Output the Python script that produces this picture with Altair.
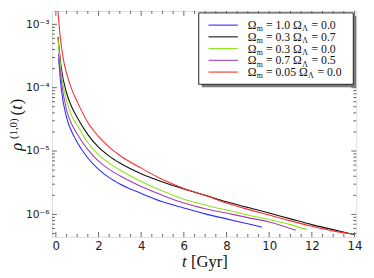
import altair as alt
import pandas as pd

# ---------------- data ----------------
series_names = ["m1.0_l0.0", "m0.3_l0.7", "m0.3_l0.0", "m0.7_l0.5", "m0.05_l0.0"]
omega_m = ["1.0", "0.3", "0.3", "0.7", "0.05"]
omega_l = ["0.0", "0.7", "0.0", "0.5", "0.0"]
line_colors = ["#2b2bff", "#111111", "#8fe31a", "#a23fb3", "#ff2b2b"]

t_blue = [0.13, 0.25, 0.5, 0.75, 1.0, 1.5, 2.0, 2.5, 3.0, 4.0, 5.0, 6.0, 7.0, 8.0, 9.0, 9.65]
rho_blue = [2.88e-4, 1.0e-4, 3.39e-5, 2.0e-5, 1.38e-5, 7.76e-6, 5.13e-6, 3.80e-6, 3.02e-6,
            2.14e-6, 1.58e-6, 1.26e-6, 1.02e-6, 8.5e-7, 7.1e-7, 6.3e-7]

t_black = [0.1, 0.25, 0.5, 0.75, 1.0, 1.5, 2.0, 2.5, 3.0, 4.0, 5.0, 6.0, 7.0, 8.0, 9.0, 10.0,
           11.0, 12.0, 13.0, 13.98]
rho_black = [6.31e-4, 2.09e-4, 8.32e-5, 4.90e-5, 3.39e-5, 1.82e-5, 1.15e-5, 8.32e-6, 6.46e-6,
             4.37e-6, 3.24e-6, 2.51e-6, 2.0e-6, 1.58e-6, 1.29e-6, 1.05e-6, 8.5e-7, 6.9e-7,
             5.75e-7, 4.8e-7]

t_green = [0.1, 0.25, 0.5, 0.75, 1.0, 1.5, 2.0, 2.5, 3.0, 4.0, 5.0, 6.0, 7.0, 8.0, 9.0, 10.0,
           11.0, 11.76]
rho_green = [6.03e-4, 1.74e-4, 6.31e-5, 3.55e-5, 2.57e-5, 1.35e-5, 8.71e-6, 6.46e-6, 5.01e-6,
             3.31e-6, 2.34e-6, 1.74e-6, 1.41e-6, 1.17e-6, 9.8e-7, 8.3e-7, 6.9e-7, 5.75e-7]

t_purple = [0.12, 0.25, 0.5, 0.75, 1.0, 1.5, 2.0, 2.5, 3.0, 4.0, 5.0, 6.0, 7.0, 8.0, 9.0, 10.0,
            11.25]
rho_purple = [3.47e-4, 1.32e-4, 4.47e-5, 2.63e-5, 1.86e-5, 1.05e-5, 6.92e-6, 5.13e-6, 4.07e-6,
              2.75e-6, 2.0e-6, 1.51e-6, 1.23e-6, 1.05e-6, 8.9e-7, 7.6e-7, 5.6e-7]

t_red = [0.09, 0.2, 0.35, 0.5, 0.75, 1.0, 1.5, 2.0, 2.5, 3.0, 4.0, 5.0, 6.0, 7.0, 8.0, 9.0,
         10.0, 11.0, 12.0, 13.0, 13.9]
rho_red = [1.70e-3, 6.61e-4, 2.82e-4, 1.70e-4, 9.33e-5, 6.03e-5, 2.82e-5, 1.70e-5, 1.15e-5,
           8.51e-6, 5.37e-6, 3.55e-6, 2.57e-6, 2.0e-6, 1.51e-6, 1.20e-6, 9.8e-7, 7.9e-7,
           6.5e-7, 5.5e-7, 4.9e-7]

x_major = [0, 2, 4, 6, 8, 10, 12, 14]
y_major = [1e-6, 1e-5, 1e-4, 1e-3]

# ---------------- layout / styling ----------------
W, H = 311, 231
FRAME = "#666666"
SERIF = "Liberation Serif"

x_minor = [i * 0.5 for i in range(0, 29) if (i * 0.5) not in x_major]
y_minor = [k * 10.0 ** e for e in range(-7, -3) for k in range(2, 10)
           if 4.42e-7 < k * 10.0 ** e < 1.62e-3]

all_t = [t_blue, t_black, t_green, t_purple, t_red]
all_rho = [rho_blue, rho_black, rho_green, rho_purple, rho_red]
rows = []
for name, ts, rs in zip(series_names, all_t, all_rho):
    for t, r in zip(ts, rs):
        rows.append({"t": t, "rho": r, "series": name})
df = pd.DataFrame(rows)

X_DOM = [-0.18, 14.08]
Y_DOM = [4.416e-7, 1.627e-3]


def xs():
    return alt.Scale(domain=X_DOM, nice=False, zero=False)


def ys():
    return alt.Scale(type="log", domain=Y_DOM, nice=False)


color = alt.Color("series:N", scale=alt.Scale(domain=series_names, range=line_colors),
                  legend=None)

sup_expr = ("'10' + (round(log(datum.value)/LN10) == -3 ? '⁻³' : "
            "round(log(datum.value)/LN10) == -4 ? '⁻⁴' : "
            "round(log(datum.value)/LN10) == -5 ? '⁻⁵' : '⁻⁶')")

lines = alt.Chart(df).mark_line(strokeWidth=1.1, interpolate="monotone", clip=True).encode(
    x=alt.X("t:Q", scale=xs(),
            axis=alt.Axis(values=x_major, title=None, grid=False, ticks=False, domain=False,
                          labelFont="DejaVu Sans", labelFontSize=12, labelPadding=4,
                          labelColor="#222222", format="d")),
    y=alt.Y("rho:Q", scale=ys(),
            axis=alt.Axis(values=y_major, labelExpr=sup_expr, title=None, grid=False,
                          ticks=False, domain=False, labelFont="DejaVu Sans",
                          labelFontSize=11, labelPadding=3, labelColor="#222222")),
    color=color,
)


def xticks(vals, length, top):
    d = pd.DataFrame({"t": vals})
    if top:
        yv, y2v = 0, length
    else:
        yv, y2v = H, H - length
    return alt.Chart(d).mark_rule(color=FRAME, strokeWidth=1).encode(
        x=alt.X("t:Q", scale=xs(), axis=None), y=alt.value(yv), y2=alt.value(y2v))


def yticks(vals, length, right):
    d = pd.DataFrame({"rho": vals})
    if right:
        xv, x2v = W, W - length
    else:
        xv, x2v = 0, length
    return alt.Chart(d).mark_rule(color=FRAME, strokeWidth=1).encode(
        y=alt.Y("rho:Q", scale=ys(), axis=None), x=alt.value(xv), x2=alt.value(x2v))


ticks = [xticks(x_major, 5, False), xticks(x_minor, 3, False),
         xticks(x_major, 5, True), xticks(x_minor, 3, True),
         yticks(y_major, 5, False), yticks(y_minor, 3, False),
         yticks(y_major, 5, True), yticks(y_minor, 3, True)]

# ---------------- legend ----------------
one = pd.DataFrame({"k": [0]})
shadow = alt.Chart(one).mark_rect(color="#7a7a7a").encode(
    x=alt.value(153), x2=alt.value(311), y=alt.value(5), y2=alt.value(78))
box = alt.Chart(one).mark_rect(fill="white", stroke="#222222", strokeWidth=1).encode(
    x=alt.value(150), x2=alt.value(308), y=alt.value(2), y2=alt.value(75))

row_y = [14.5 + 12 * i for i in range(len(series_names))]
leg_lines = alt.Chart(pd.DataFrame({"series": series_names, "ly": row_y})).mark_rule(
    strokeWidth=1.1).encode(
    x=alt.value(160), x2=alt.value(190), y=alt.Y("ly:Q", scale=None), color=color)

EM = {'0': .5, '1': .5, '2': .5, '3': .5, '4': .5, '5': .5, '6': .5, '7': .5, '8': .5,
      '9': .5, '.': .25, '=': .564, ' ': .25, 'Ω': .768, 'Λ': .722, 'm': .778}


def wid(s, f):
    return sum(EM.get(c, .5) for c in s) * f


FS, SUB = 12, 8
pieces = []
for om, ol, yy in zip(omega_m, omega_l, row_y):
    base = yy + 4
    x = 200.0
    pieces.append({"text": "Ω", "px": x, "py": base, "fs": FS})
    x += wid("Ω", FS)
    pieces.append({"text": "m", "px": x, "py": base + 2.5, "fs": SUB})
    x += wid("m", SUB) + wid(" ", FS) + 0.3
    s = "= " + om + " Ω"
    pieces.append({"text": s, "px": x, "py": base, "fs": FS})
    x += wid(s, FS)
    pieces.append({"text": "Λ", "px": x, "py": base + 2.5, "fs": SUB})
    x += wid("Λ", SUB) + wid(" ", FS) + 0.8
    pieces.append({"text": "= " + ol, "px": x, "py": base, "fs": FS})

leg_text = alt.Chart(pd.DataFrame(pieces)).mark_text(
    align="left", baseline="alphabetic", font=SERIF, color="#111111").encode(
    x=alt.X("px:Q", scale=None), y=alt.Y("py:Q", scale=None),
    text="text:N", size=alt.Size("fs:Q", scale=None))

# ---------------- axis titles ----------------
ytitle_it = pd.DataFrame([
    {"text": "ρ", "px": -31, "py": 143, "fs": 17},
    {"text": "t", "px": -31, "py": 101, "fs": 17},
])
ytitle_up = pd.DataFrame([
    {"text": "(1,0)", "px": -36, "py": 131, "fs": 11},
    {"text": "(", "px": -31, "py": 107, "fs": 17},
    {"text": ")", "px": -31, "py": 95.5, "fs": 17},
])


def rot_text(d, style):
    return alt.Chart(d).mark_text(align="left", baseline="alphabetic", font=SERIF,
                                  fontStyle=style, angle=270, color="#111111").encode(
        x=alt.X("px:Q", scale=None), y=alt.Y("py:Q", scale=None),
        text="text:N", size=alt.Size("fs:Q", scale=None))


xt_it = pd.DataFrame([{"text": "t", "px": 133, "py": 262, "fs": 17}])
xt_up = pd.DataFrame([{"text": "[Gyr]", "px": 142, "py": 262, "fs": 17}])


def flat_text(d, style):
    return alt.Chart(d).mark_text(align="left", baseline="alphabetic", font=SERIF,
                                  fontStyle=style, color="#111111").encode(
        x=alt.X("px:Q", scale=None), y=alt.Y("py:Q", scale=None),
        text="text:N", size=alt.Size("fs:Q", scale=None))


chart = alt.layer(
    lines, *ticks, shadow, box, leg_lines, leg_text,
    rot_text(ytitle_it, "italic"), rot_text(ytitle_up, "normal"),
    flat_text(xt_it, "italic"), flat_text(xt_up, "normal"),
).resolve_scale(
    x="independent", y="independent"
).resolve_axis(
    x="independent", y="independent"
).properties(
    width=W, height=H,
    autosize=alt.AutoSizeParams(type="none"),
    padding={"left": 45, "top": 0, "right": 10, "bottom": 38},
).configure_view(
    stroke=FRAME, strokeWidth=1
).configure(background="white")

chart.save("out.html", embed_options={"renderer": "svg", "actions": False})
